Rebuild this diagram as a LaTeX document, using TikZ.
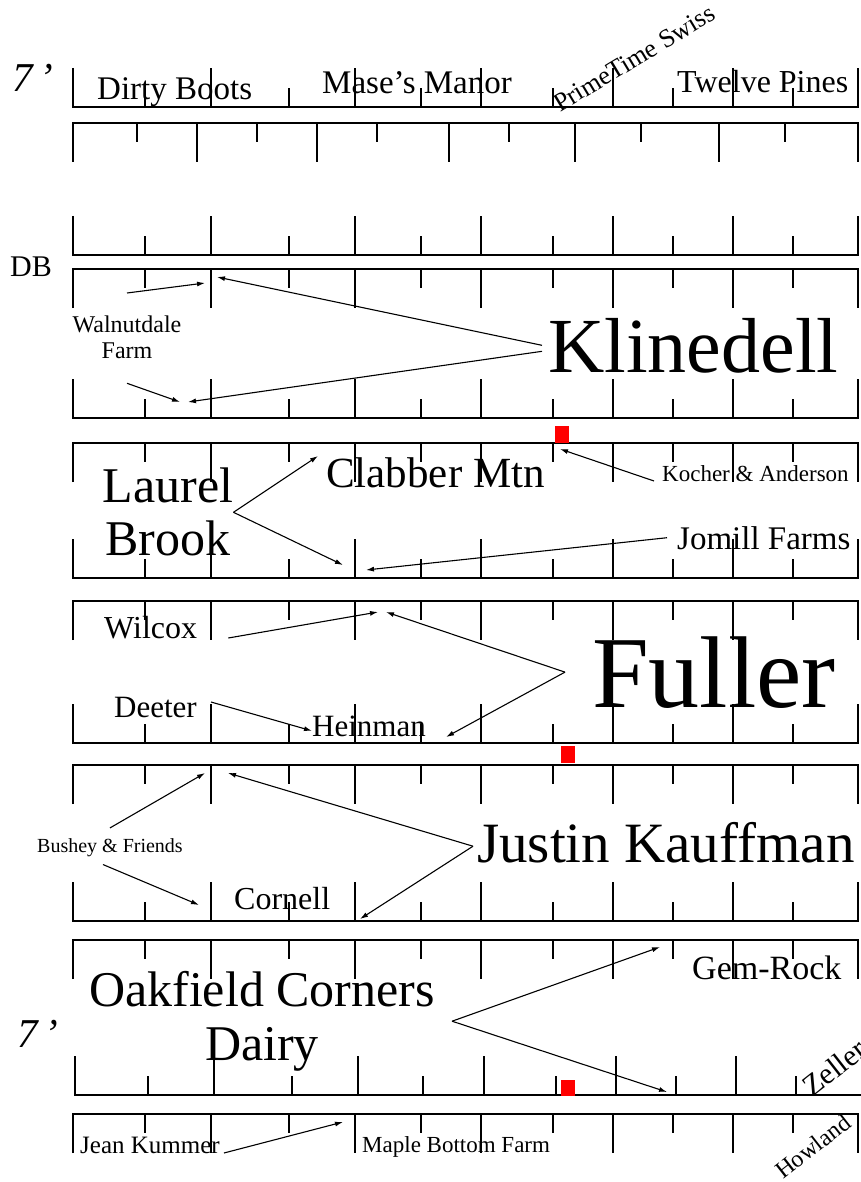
\documentclass[tikz,border=0pt]{standalone}
\usepackage{fontspec}
\setmainfont{Liberation Serif}
\usetikzlibrary{arrows.meta}

\begin{document}
\begin{tikzpicture}[x=1pt,y=-1pt,
  rule/.style={line width=2.6pt},
  arr/.style={line width=1.1pt,-{Latex[length=8pt,width=5pt]}},
  lbl/.style={inner sep=0pt,anchor=base west},
  fs/.style={font=\fontsize{#1}{#1}\selectfont},
  two/.style={inner sep=0pt,anchor=north,align=center}]
\useasboundingbox (0,0) rectangle (861,1182);

\foreach \y in {107,255,418,578,743,921}{
  \draw[rule] (73,{\y-39}) -- (73,\y) -- (858,\y) -- (858,{\y-39});
  \foreach \x/\l in {145/19,211/39,289/19,355/39,421/19,481/39,553/19,613/39,673/19,733/39,793/19}
    \draw[rule] (\x,\y) -- ++(0,-\l);
}
\foreach \y in {269,443,601,765,940,1114}{
  \draw[rule] (73,{\y+39}) -- (73,\y) -- (858,\y) -- (858,{\y+39});
  \foreach \x/\l in {145/19,211/39,289/19,355/39,421/19,481/39,553/19,613/39,673/19,733/39,793/19}
    \draw[rule] (\x,\y) -- ++(0,\l);
}
\draw[rule] (73,162) -- (73,123) -- (858,123) -- (858,162);
\foreach \x/\l in {137/19,197/39,257/19,317/39,377/19,449/39,509/19,575/39,641/19,719/39,785/19}
  \draw[rule] (\x,123) -- ++(0,\l);
\draw[rule] (75,1056) -- (75,1095) -- (861,1095);
\foreach \x/\l in {148/19,214/39,292/19,358/39,423/19,484/39,556/19,616/39,676/19,736/39,796/19}
  \draw[rule] (\x,1095) -- ++(0,-\l);

\fill[red] (555,426) rectangle (569,443);
\fill[red] (561,746) rectangle (575,763);
\fill[red] (561,1080) rectangle (575,1096);

\node[lbl,font=\fontsize{41}{41}\selectfont\itshape] (seventop) at (12,92) {7\,’};
\node[lbl,fs=33] (dirty) at (97,100) {Dirty Boots};
\node[lbl,fs=33] (mase) at (322,94) {Mase’s Manor};
\node[lbl,fs=26,rotate=31] (prime) at (560,113) {PrimeTime Swiss};
\node[lbl,fs=32] (twelve) at (677,93) {Twelve Pines};
\node[lbl,fs=30] (db) at (10,276) {DB};
\node[two,font=\fontsize{24}{26}\selectfont] (walnut) at (127,316) {Walnutdale\\Farm};
\node[lbl,fs=78] (kline) at (548,372) {Klinedell};
\node[lbl,fs=43] (clabber) at (326,487) {Clabber Mtn};
\node[lbl,fs=23] (kocher) at (662,481) {Kocher \& Anderson};
\node[two,font=\fontsize{50}{53}\selectfont] (laurel) at (168,468) {Laurel\\Brook};
\node[lbl,fs=33] (jomill) at (677,549) {Jomill Farms};
\node[lbl,fs=32] (wilcox) at (104,638) {Wilcox};
\node[lbl,fs=102] (fuller) at (592,707) {Fuller};
\node[lbl,fs=31] (deeter) at (114,717) {Deeter};
\node[lbl,fs=31] (heinman) at (312,736) {Heinman};
\node[lbl,fs=20] (bushey) at (37,852) {Bushey \& Friends};
\node[lbl,fs=57] (justin) at (477,862) {Justin Kauffman};
\node[lbl,fs=32] (cornell) at (234,909) {Cornell};
\node[lbl,fs=34] (gem) at (692,979) {Gem-Rock};
\node[two,font=\fontsize{50}{54}\selectfont] (oakfield) at (262,971) {Oakfield Corners\\Dairy};
\node[lbl,font=\fontsize{41}{41}\selectfont\itshape] (sevenbot) at (17,1047) {7\,’};
\node[lbl,fs=30,rotate=38] (zeller) at (812,1098) {Zeller};
\node[lbl,fs=24,rotate=38] (howland) at (783,1180) {Howland};
\node[lbl,fs=25] (jean) at (80,1153) {Jean Kummer};
\node[lbl,fs=23] (maple) at (362,1152) {Maple Bottom Farm};

\coordinate (wt1) at (205,283);
\coordinate (wt2) at (180,402);
\coordinate (kt1) at (217,277);
\coordinate (kt2) at (188,402);
\coordinate (ko1) at (560,449);
\coordinate (lb1) at (318,456);
\coordinate (lb2) at (343,565);
\coordinate (jo1) at (366,570);
\coordinate (wi1) at (378,612);
\coordinate (fu1) at (386,612);
\coordinate (fu2) at (446,737);
\coordinate (bu1) at (205,773);
\coordinate (bu2) at (199,905);
\coordinate (ju1) at (228,773);
\coordinate (ju2) at (360,919);
\coordinate (oc1) at (660,947);
\coordinate (oc2) at (667,1092);
\coordinate (je1) at (343,1122);

\draw[arr] ([yshift=23pt]walnut.north) -- (wt1);
\draw[arr] ([yshift=-24pt]walnut.south) -- (wt2);
\draw[arr] ([xshift=-6pt]kline.west) -- (kt1);
\draw[arr] ([xshift=-6pt,yshift=-6pt]kline.west) -- (kt2);
\draw[arr] ([xshift=-8pt]kocher.base west) -- (ko1);
\draw[arr] (laurel.east) -- (lb1);
\draw[arr] (laurel.east) -- (lb2);
\draw[arr] ([xshift=-10pt]jomill.west) -- (jo1);
\draw[arr] ([xshift=31pt]wilcox.base east) -- (wi1);
\draw[arr] ([xshift=-27pt]fuller.west) -- (fu1);
\draw[arr] ([xshift=-27pt]fuller.west) -- (fu2);
\draw[arr] ([xshift=14pt,yshift=5pt]deeter.east) -- ([yshift=-5pt]heinman.west);
\draw[arr] ([yshift=10pt]bushey.north) -- (bu1);
\draw[arr] ([xshift=-7pt,yshift=-8pt]bushey.south) -- (bu2);
\draw[arr] ([xshift=-4pt,yshift=-4pt]justin.west) -- (ju1);
\draw[arr] ([xshift=-4pt,yshift=-4pt]justin.west) -- (ju2);
\draw[arr] ([xshift=17pt]oakfield.east) -- (oc1);
\draw[arr] ([xshift=17pt]oakfield.east) -- (oc2);
\draw[arr] ([xshift=4pt]jean.base east) -- (je1);
\end{tikzpicture}
\end{document}
